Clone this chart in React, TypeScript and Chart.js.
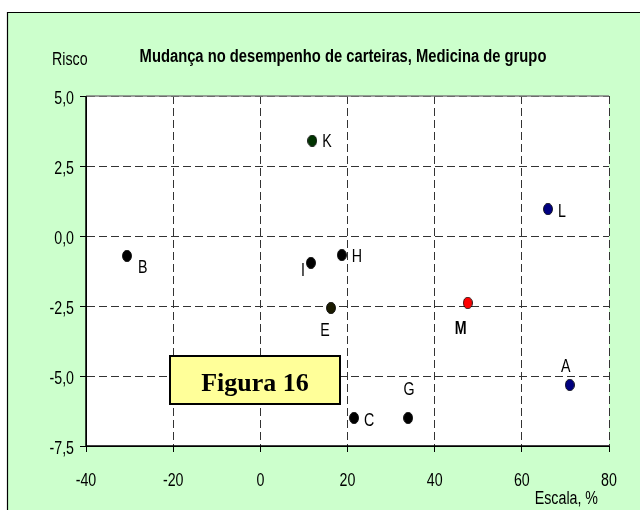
import React, { useEffect, useRef } from "react";
import { Chart, registerables } from "chart.js";

Chart.register(...registerables);

const pointNames = ["K", "L", "B", "I", "H", "E", "M", "A", "G", "C"];
const escala = [11.9, 66.0, -30.6, 11.6, 18.7, 16.2, 47.6, 71.0, 33.9, 21.5];
const risco = [3.4, 0.96, -0.71, -0.96, -0.68, -2.57, -2.39, -5.32, -6.5, -6.5];
const pointColors = ["#003300", "#000080", "#000000", "#000000", "#000000", "#1a1a00", "#ff0000", "#000080", "#000000", "#000000"];
// label placement relative to the marker: [dx, dy, align]
const labelOffsets: [number, number, CanvasTextAlign][] = [
  [10, 1, "left"],
  [10, 3, "left"],
  [11, 12, "left"],
  [-6, 8, "right"],
  [10, 2, "left"],
  [-6, 23, "center"],
  [-7, 26, "center"],
  [-4, -18, "center"],
  [1, -28, "center"],
  [10, 3, "left"],
];
const boldLabels = ["M"];

const xTicksMin = -40;
const xTicksMax = 80;
const xStep = 20;
const yTicksMin = -7.5;
const yTicksMax = 5;
const yStep = 2.5;

const titleText = "Mudança no desempenho de carteiras, Medicina de grupo";
const yTitle = "Risco";
const xTitle = "Escala, %";
const figureText = "Figura 16";

const SANS = "'Liberation Sans', Arial, sans-serif";
const NARROW_X = 0.79;

function narrowText(ctx: CanvasRenderingContext2D, text: string, x: number, y: number, font: string, align: CanvasTextAlign, sx: number = NARROW_X) {
  ctx.save();
  ctx.translate(x, y);
  ctx.scale(sx, 1);
  ctx.font = font;
  ctx.textAlign = align;
  ctx.textBaseline = "middle";
  ctx.fillStyle = "#000";
  ctx.fillText(text, 0, 0);
  ctx.restore();
}

function ellipseMarker(color: string): HTMLCanvasElement {
  const c = document.createElement("canvas");
  c.width = 10;
  c.height = 12;
  const ctx = c.getContext("2d")!;
  ctx.beginPath();
  ctx.ellipse(5, 6, 4.5, 5.8, 0, 0, Math.PI * 2);
  ctx.fillStyle = color;
  ctx.fill();
  ctx.lineWidth = 0.8;
  ctx.strokeStyle = "#000";
  ctx.stroke();
  return c;
}

const decorPlugin = {
  id: "decor",
  beforeDraw(chart: any) {
    const { ctx, width, height, chartArea } = chart;
    ctx.save();
    ctx.fillStyle = "#ffffff";
    ctx.fillRect(0, 0, width, height);
    ctx.fillStyle = "#ccffcc";
    ctx.fillRect(7, 12, width - 7, height - 12);
    ctx.strokeStyle = "#000";
    ctx.lineWidth = 1.2;
    ctx.beginPath();
    ctx.moveTo(7.5, height);
    ctx.lineTo(7.5, 12.5);
    ctx.lineTo(width, 12.5);
    ctx.stroke();
    ctx.fillStyle = "#ffffff";
    ctx.fillRect(chartArea.left, chartArea.top, chartArea.right - chartArea.left, chartArea.bottom - chartArea.top);
    ctx.restore();
    narrowText(ctx, yTitle, 52, 60, "18px " + SANS, "left");
    narrowText(ctx, titleText, 343, 57, "bold 18px " + SANS, "center", 0.82);
    narrowText(ctx, xTitle, 598, 499, "18px " + SANS, "right");
    // tick labels from the scales
    const xs = chart.scales.x;
    const ys = chart.scales.y;
    xs.ticks.forEach((t: any) => {
      narrowText(ctx, String(t.value), xs.getPixelForValue(t.value), chartArea.bottom + 35, "18px " + SANS, "center");
    });
    ys.ticks.forEach((t: any) => {
      narrowText(ctx, Number(t.value).toFixed(1).replace(".", ","), chartArea.left - 12, ys.getPixelForValue(t.value) + 3, "18px " + SANS, "right");
    });
  },
  afterDatasetsDraw(chart: any) {
    const { ctx, chartArea } = chart;
    ctx.save();
    // plot area frame: solid gray top, solid black axes
    ctx.strokeStyle = "#808080";
    ctx.lineWidth = 1.5;
    ctx.beginPath();
    ctx.moveTo(chartArea.left, chartArea.top);
    ctx.lineTo(chartArea.right, chartArea.top);
    ctx.stroke();
    ctx.strokeStyle = "#000";
    ctx.lineWidth = 1.5;
    ctx.beginPath();
    ctx.moveTo(chartArea.left, chartArea.top);
    ctx.lineTo(chartArea.left, chartArea.bottom);
    ctx.lineTo(chartArea.right, chartArea.bottom);
    ctx.stroke();
    ctx.restore();
    // point labels
    const meta = chart.getDatasetMeta(0);
    meta.data.forEach((el: any, i: number) => {
      const [dx, dy, align] = labelOffsets[i];
      const font = (boldLabels.includes(pointNames[i]) ? "bold " : "") + "18px " + SANS;
      narrowText(ctx, pointNames[i], el.x + dx, el.y + dy, font, align);
    });
    // figure caption box
    ctx.save();
    const bx = chartArea.left + 84;
    const by = chartArea.top + 260;
    const bw = 170;
    const bh = 48;
    ctx.fillStyle = "#ffff99";
    ctx.fillRect(bx, by, bw, bh);
    ctx.strokeStyle = "#000";
    ctx.lineWidth = 2;
    ctx.strokeRect(bx, by, bw, bh);
    ctx.fillStyle = "#000";
    ctx.font = "bold 26px 'Liberation Serif', 'Times New Roman', serif";
    ctx.textAlign = "center";
    ctx.textBaseline = "alphabetic";
    ctx.fillText(figureText, bx + bw / 2, by + 35);
    ctx.restore();
  },
};

export default function App() {
  const ref = useRef<HTMLCanvasElement | null>(null);
  useEffect(() => {
    if (!ref.current) return;
    const data = escala.map((x, i) => ({ x, y: risco[i] }));
    const markers = pointColors.map((c) => ellipseMarker(c));
    const chart = new Chart(ref.current, {
      type: "scatter",
      data: {
        datasets: [
          {
            data,
            pointStyle: markers as any,
            pointRadius: 6,
            pointHoverRadius: 6,
          },
        ],
      },
      options: {
        animation: false,
        responsive: false,
        devicePixelRatio: 1,
        layout: { padding: { left: 0, right: 31, top: 96, bottom: 0 } },
        plugins: { legend: { display: false }, tooltip: { enabled: false }, title: { display: false } },
        scales: {
          x: {
            type: "linear",
            min: xTicksMin,
            max: xTicksMax,
            afterFit(scale: any) {
              scale.height = 64;
            },
            ticks: { stepSize: xStep, display: false },
            grid: { color: "#333333", tickLength: 6, tickColor: "#000", lineWidth: 1 },
            border: { color: "#000", width: 1, dash: [8, 4] },
          },
          y: {
            type: "linear",
            min: yTicksMin,
            max: yTicksMax,
            afterFit(scale: any) {
              scale.width = 86;
            },
            ticks: { stepSize: yStep, display: false },
            grid: { color: "#333333", tickLength: 6, tickColor: "#000", lineWidth: 1 },
            border: { color: "#000", width: 1, dash: [8, 4] },
          },
        },
      },
      plugins: [decorPlugin],
    });
    return () => chart.destroy();
  }, []);
  return (
    <div style={{ position: "absolute", left: 0, top: 0, width: 640, height: 510 }}>
      <canvas ref={ref} width={640} height={510} style={{ display: "block", width: 640, height: 510 }} />
    </div>
  );
}
